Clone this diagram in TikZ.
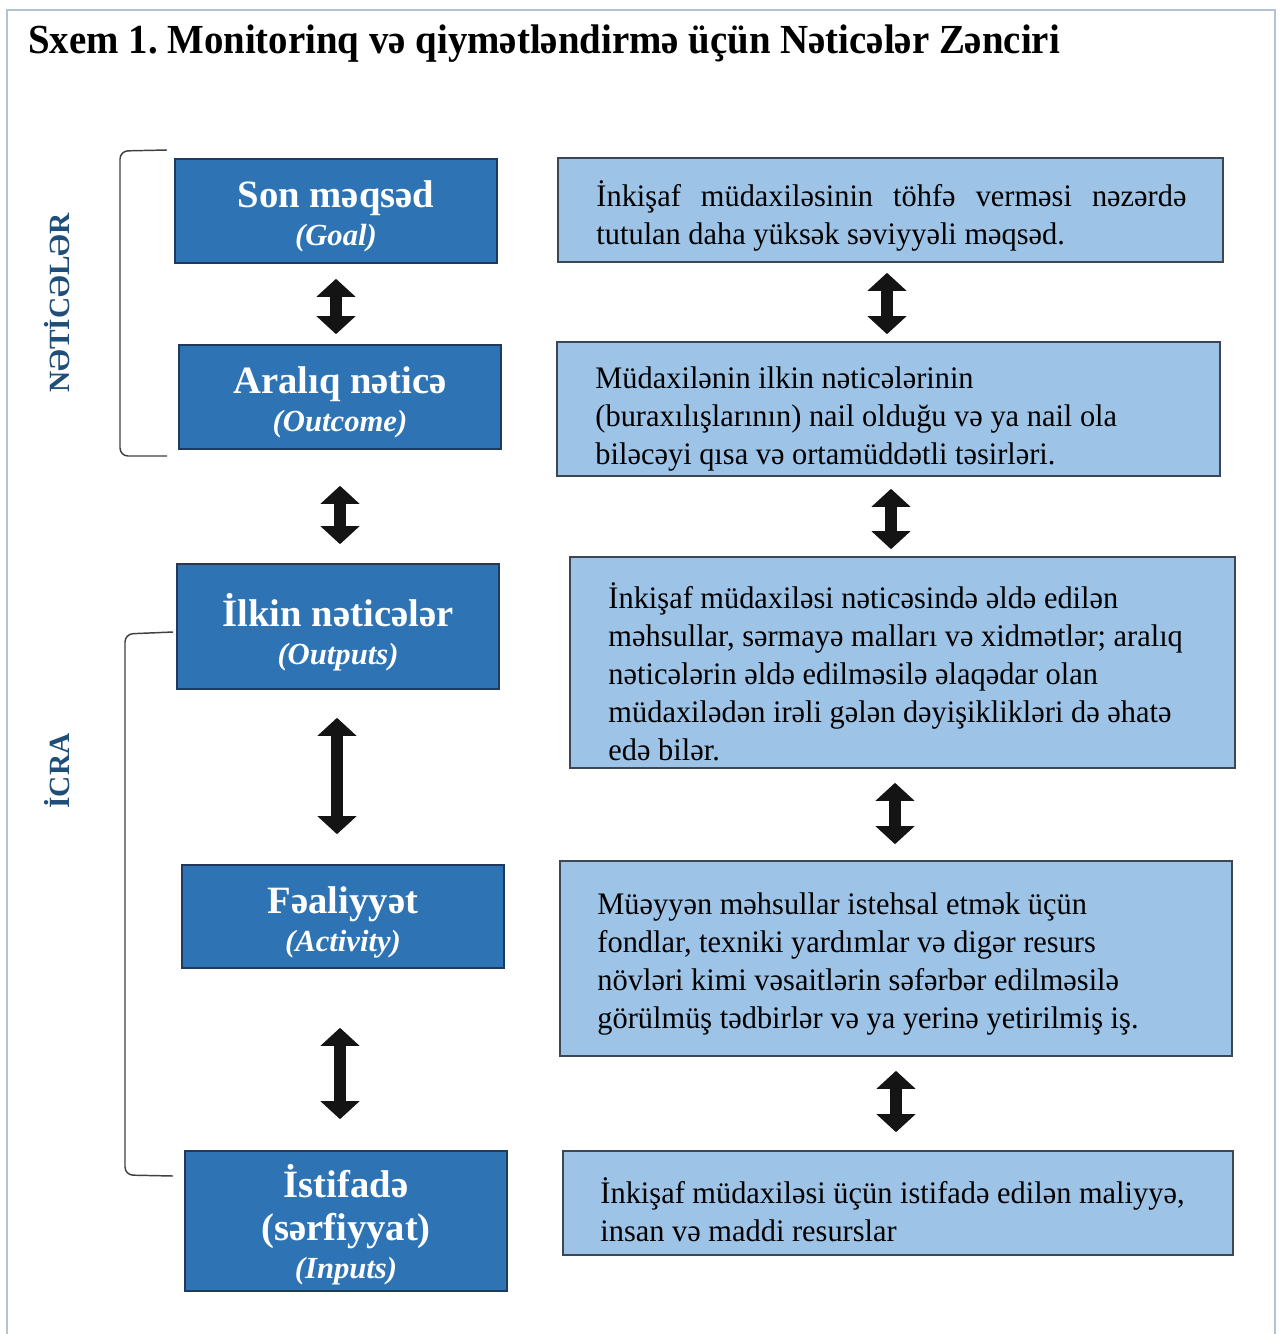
\documentclass[tikz,border=0pt]{standalone}
\usepackage{fontspec}
\setmainfont{Liberation Serif}
\newfontfamily\bodyfont[FakeStretch=0.97]{Liberation Serif}
\newfontfamily\titlefont[FakeStretch=0.94]{Liberation Serif}
\usetikzlibrary{arrows.meta,calc}
\definecolor{dkblue}{HTML}{2E74B5}
\definecolor{dkborder}{HTML}{1F3A5F}
\definecolor{ltblue}{HTML}{9DC3E6}
\definecolor{ltborder}{HTML}{3C4654}
\definecolor{lbl}{HTML}{1F4E79}
\definecolor{framecol}{HTML}{B4C3D2}
% box node #1 from (#2,#3) to (#4,#5), style #6
\newcommand\mkbox[6]{\node[#6, minimum width={(#4-#2)*0.75pt}, minimum height={(#5-#3)*0.75pt}] (#1) at ({(#2+#4)/2},{(#3+#5)/2}) {};}
\newcommand\subit[1]{{\itshape\fontsize{23pt}{28pt}\selectfont #1}}
\begin{document}
\frenchspacing
\begin{tikzpicture}[x=0.75pt,y=-0.75pt,
  dkbox/.style={draw=dkborder, line width=1.2pt, fill=dkblue, inner sep=0pt},
  dktxt/.style={text=white, align=center, inner sep=0pt,
     font=\bfseries\fontsize{29pt}{28.5pt}\selectfont},
  ltbox/.style={draw=ltborder, line width=1.2pt, fill=ltblue, inner sep=0pt},
  lttxt/.style={text=black, align=left, inner sep=0pt, anchor=west,
     font=\bodyfont\fontsize{23.5pt}{28.5pt}\selectfont},
  dbl/.style={line width=9pt, draw=black!92, {Triangle[width=28.5pt,length=13.5pt]}-{Triangle[width=28.5pt,length=13.5pt]}},
  brk/.style={draw=black!75, line width=1.1pt, rounded corners=6pt},
  vlabel/.style={text=lbl, font=\bfseries\fontsize{22pt}{25pt}\selectfont, rotate=90}
]
\useasboundingbox (0,0) rectangle (1279,1334);
\fill[white] (0,0) rectangle (1279,1334);
% frame
\draw[framecol, line width=1.5pt] (7,1334) -- (7,10) -- (1275,10) -- (1275,1334);

% title
\node[anchor=base west, inner sep=0pt, font=\titlefont\bfseries\fontsize{31pt}{34pt}\selectfont] (title) at (28,54)
  {Sxem 1. Monitorinq və qiymətləndirmə üçün Nəticələr Zənciri};

% left boxes
\mkbox{L1}{175}{159}{497}{263}{dkbox}
\mkbox{L2}{179}{345}{501}{449}{dkbox}
\mkbox{L3}{177}{564}{499}{689}{dkbox}
\mkbox{L4}{182}{865}{504}{968}{dkbox}
\mkbox{L5}{185}{1151}{507}{1291}{dkbox}
\node[dktxt] (L1t) at ($(L1.center)+(0,5.5)$) {Son məqsəd\\\subit{(Goal)}};
\node[dktxt] (L2t) at ($(L2.center)+(0,5.5)$) {Aralıq nəticə\\\subit{(Outcome)}};
\node[dktxt] (L3t) at ($(L3.center)+(0,5.5)$) {İlkin nəticələr\\\subit{(Outputs)}};
\node[dktxt] (L4t) at ($(L4.center)+(0,6)$) {Fəaliyyət\\\subit{(Activity)}};
\node[dktxt] (L5t) at ($(L5.center)+(0,4)$) {İstifadə\\[4pt](sərfiyyat)\\\subit{(Inputs)}};

% right boxes
\mkbox{R1}{558}{158}{1223}{262}{ltbox}
\mkbox{R2}{557}{342}{1220}{476}{ltbox}
\mkbox{R3}{570}{557}{1235}{768}{ltbox}
\mkbox{R4}{560}{861}{1232}{1056}{ltbox}
\mkbox{R5}{563}{1151}{1233}{1255}{ltbox}
\node[lttxt] (R1t) at ($(R1.west)+(39,6)$) {\makebox[442.5pt][s]{İnkişaf müdaxiləsinin töhfə verməsi nəzərdə}\\tutulan daha yüksək səviyyəli məqsəd.};
\node[lttxt] (R2t) at ($(R2.west)+(39,10.5)$) {Müdaxilənin ilkin nəticələrinin\\(buraxılışlarının) nail olduğu və ya nail ola\\biləcəyi qısa və ortamüddətli təsirləri.};
\node[lttxt] (R3t) at ($(R3.west)+(39,9)$) {İnkişaf müdaxiləsi nəticəsində əldə edilən\\məhsullar, sərmayə malları və xidmətlər; aralıq\\nəticələrin əldə edilməsilə əlaqədar olan\\müdaxilədən irəli gələn dəyişiklikləri də əhatə\\edə bilər.};
\node[lttxt] (R4t) at ($(R4.west)+(38,5)$) {Müəyyən məhsullar istehsal etmək üçün\\fondlar, texniki yardımlar və digər resurs\\növləri kimi vəsaitlərin səfərbər edilməsilə\\görülmüş tədbirlər və ya yerinə yetirilmiş iş.};
\node[lttxt] (R5t) at ($(R5.west)+(38,6.5)$) {İnkişaf müdaxiləsi üçün istifadə edilən maliyyə,\\insan və maddi resurslar};

% arrows left
\draw[dbl] ($(L1.south)+(0,15)$) -- ($(L1.south |- L2.north)+(0,-10)$);
\draw[dbl] ($(L2.south)+(0,36)$) -- ($(L2.south |- L3.north)+(0,-19)$);
\draw[dbl] ($(L3.south)+(-1,28)$) -- ($(L3.south |- L4.north)+(-1,-30)$);
\draw[dbl] ($(L4.south)+(-3,59)$) -- ($(L4.south |- L5.north)+(-3,-31)$);
% arrows right
\draw[dbl] ($(R1.south)+(-3.5,10)$) -- ($(R1.south |- R2.north)+(-3.5,-7)$);
\draw[dbl] ($(R2.south)+(2.5,12)$) -- ($(R2.south |- R3.north)+(2.5,-7)$);
\draw[dbl] ($(R3.south)+(-7.5,14)$) -- ($(R3.south |- R4.north)+(-7.5,-16)$);
\draw[dbl] ($(R4.south)+(0,14)$) -- ($(R4.south |- R5.north)+(0,-18)$);

% brackets
\coordinate (b1t) at (167,150); \coordinate (b1b) at (167,456);
\draw[brk] (b1t) -- (120,151) -- (120,456) -- (b1b);
\coordinate (b2t) at (173,632); \coordinate (b2b) at (173,1176);
\draw[brk] (b2t) -- (125,634) -- (125,1175) -- (b2b);

\node[vlabel] (lab1) at (57,303) {NƏTİCƏLƏR};
\node[vlabel] (lab2) at (57,771) {İCRA};
\end{tikzpicture}
\end{document}
